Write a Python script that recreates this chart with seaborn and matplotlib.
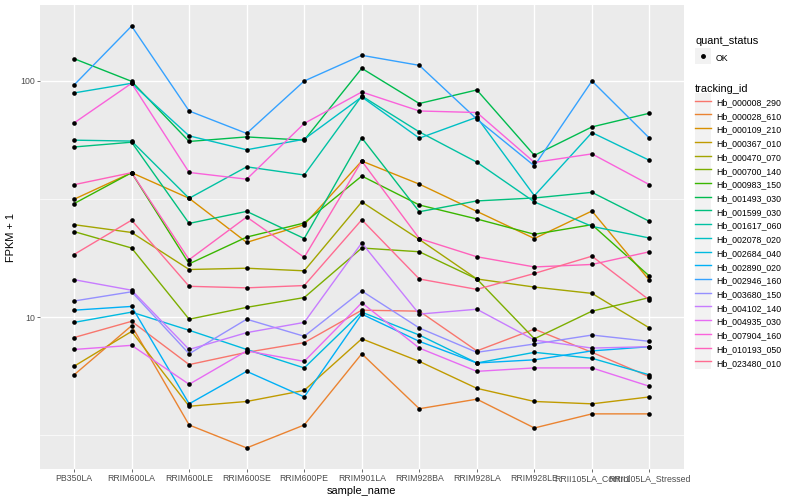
import numpy as np
import pandas as pd
import matplotlib
matplotlib.use('Agg')
import matplotlib.pyplot as plt
import seaborn as sns
from matplotlib.lines import Line2D
from matplotlib.patches import Rectangle
from matplotlib.legend_handler import HandlerTuple, HandlerPatch

samples = ['PB350LA', 'RRIM600LA', 'RRIM600LE', 'RRIM600SE', 'RRIM600PE', 'RRIM901LA',
           'RRIM928BA', 'RRIM928LA', 'RRIM928LE', 'RRII105LA_Control', 'RRII105LA_Stressed']

tracking_ids = ['Hb_000008_290', 'Hb_000028_610', 'Hb_000109_210', 'Hb_000367_010',
                'Hb_000470_070', 'Hb_000700_140', 'Hb_000983_150', 'Hb_001493_030',
                'Hb_001599_030', 'Hb_001617_060', 'Hb_002078_020', 'Hb_002684_040',
                'Hb_002890_020', 'Hb_002946_160', 'Hb_003680_150', 'Hb_004102_140',
                'Hb_004935_030', 'Hb_007904_160', 'Hb_010193_050', 'Hb_023480_010']

# ggplot default hue palette for 20 levels
colors = ['#F8766D', '#EA8331', '#D89000', '#C09B00', '#A3A500', '#7CAE00', '#39B600',
          '#00BB4E', '#00BF7D', '#00C1A3', '#00BFC4', '#00BAE0', '#00B0F6', '#35A2FF',
          '#9590FF', '#C77CFF', '#E76BF3', '#FA62DB', '#FF62BC', '#FF6C91']

# FPKM + 1, one value per sample
hb_000008_290 = [8.2, 9.6, 6.3, 7.1, 7.8, 10.7, 10.6, 7.2, 8.9, 7.1, 5.6]
hb_000028_610 = [5.7, 9.2, 3.5, 2.8, 3.5, 7.0, 4.1, 4.5, 3.4, 3.9, 3.9]
hb_000109_210 = [31.5, 40.8, 31.8, 20.7, 24.6, 45.7, 36.5, 28.0, 21.5, 28.1, 14.3]
hb_000367_010 = [6.2, 8.7, 4.2, 4.4, 4.9, 8.1, 6.5, 5.0, 4.4, 4.3, 4.6]
hb_000470_070 = [24.6, 22.8, 15.9, 16.1, 15.7, 30.7, 21.3, 14.5, 13.4, 12.6, 9.0]
hb_000700_140 = [23.0, 19.6, 9.8, 11.0, 12.1, 19.6, 18.9, 14.5, 8.1, 10.6, 12.1]
hb_000983_150 = [30.2, 40.8, 16.8, 21.8, 25.0, 39.5, 29.8, 26.0, 22.4, 24.6, 14.9]
hb_001493_030 = [123.8, 99.3, 55.3, 57.8, 56.0, 112.7, 80.0, 91.3, 48.3, 63.7, 72.8]
hb_001599_030 = [52.4, 54.9, 24.9, 28.0, 21.5, 57.3, 27.9, 31.0, 31.9, 33.7, 25.4]
hb_001617_060 = [56.0, 55.5, 31.8, 43.2, 39.9, 86.1, 60.7, 45.2, 30.7, 24.2, 21.6]
hb_002078_020 = [88.7, 97.4, 58.4, 51.0, 56.5, 85.3, 57.1, 70.0, 32.6, 60.3, 46.0]
hb_002684_040 = [9.5, 10.5, 8.8, 7.3, 6.1, 10.5, 8.4, 6.4, 7.1, 6.7, 5.7]
hb_002890_020 = [10.7, 11.1, 4.3, 5.9, 4.6, 10.3, 7.9, 6.4, 6.6, 7.2, 7.5]
hb_002946_160 = [95.8, 170.0, 74.4, 59.8, 99.6, 127.9, 116.0, 68.7, 43.6, 99.6, 57.1]
hb_003680_150 = [11.7, 12.8, 7.0, 9.8, 8.3, 12.9, 9.0, 7.1, 7.7, 8.4, 7.9]
hb_004102_140 = [14.4, 13.0, 7.3, 8.6, 9.5, 20.6, 10.3, 10.8, 8.0, 7.4, 7.5]
hb_004935_030 = [7.3, 7.6, 5.2, 7.2, 6.5, 11.5, 7.4, 5.9, 6.1, 6.1, 5.1]
hb_007904_160 = [66.2, 97.4, 40.9, 38.3, 65.9, 89.5, 74.4, 73.3, 45.1, 49.0, 36.3]
hb_010193_050 = [36.3, 40.8, 17.5, 26.5, 17.9, 45.7, 21.5, 18.0, 16.3, 16.7, 18.9]
hb_023480_010 = [18.4, 25.7, 13.5, 13.3, 13.6, 25.8, 14.5, 13.1, 15.3, 18.1, 11.8]

series = [hb_000008_290, hb_000028_610, hb_000109_210, hb_000367_010, hb_000470_070,
          hb_000700_140, hb_000983_150, hb_001493_030, hb_001599_030, hb_001617_060,
          hb_002078_020, hb_002684_040, hb_002890_020, hb_002946_160, hb_003680_150,
          hb_004102_140, hb_004935_030, hb_007904_160, hb_010193_050, hb_023480_010]

rows = []
for tid, vals in zip(tracking_ids, series):
    for s, v in zip(samples, vals):
        rows.append({'sample_name': s, 'tracking_id': tid, 'fpkm': v, 'quant_status': 'OK'})
df = pd.DataFrame(rows)

plt.rcParams['font.family'] = ['Liberation Sans', 'DejaVu Sans']

fig = plt.figure(figsize=(8, 5), dpi=100)
ax = fig.add_axes([0.0494, 0.062, 0.8056, 0.928])

sns.lineplot(data=df, x='sample_name', y='fpkm', hue='tracking_id', hue_order=tracking_ids,
             palette=colors, sort=False, linewidth=1.0, legend=False, ax=ax)
sns.scatterplot(data=df, x='sample_name', y='fpkm', color='black', s=11, linewidth=0,
                legend=False, ax=ax, zorder=5)

ax.set_yscale('log')
ax.set_yticks([10, 100])
ax.set_yticklabels(['10', '100'])
ax.set_yticks([10 ** 0.5, 10 ** 1.5, 10 ** 2.5], minor=True)
ax.yaxis.set_minor_formatter(plt.NullFormatter())
# ggplot-like 5% expansion in log space (set after the ticks so they don't widen it)
lo, hi = np.log10(df['fpkm'].min()), np.log10(df['fpkm'].max())
pad = 0.05 * (hi - lo)
ax.set_ylim(10 ** (lo - pad), 10 ** (hi + pad))
ax.set_xlim(-0.6, len(samples) - 0.4)

ax.set_facecolor('#EBEBEB')
for sp in ax.spines.values():
    sp.set_visible(False)
ax.set_axisbelow(True)
ax.grid(which='major', color='white', linewidth=1.0)
ax.grid(which='minor', axis='y', color='white', linewidth=0.5)
ax.tick_params(which='major', length=2, width=0.5, color='#333333', labelcolor='#4D4D4D',
               labelsize=6.3, pad=1.5)
ax.tick_params(which='minor', length=0)

ax.set_xlabel('sample_name', fontsize=7.9, labelpad=2)
ax.set_ylabel('FPKM + 1', fontsize=7.9, labelpad=3)


# legend keys: grey square filling the whole key box, like ggplot
def full_key(legend, orig_handle, xdescent, ydescent, width, height, fontsize):
    return Rectangle((-xdescent, -ydescent), width, height + ydescent)


key_bg = '#F2F2F2'
hmap = {Rectangle: HandlerPatch(patch_func=full_key), tuple: HandlerTuple(ndivide=1)}
leg_kw = dict(loc='upper left', frameon=False, alignment='left', fontsize=6.3,
              title_fontsize=7.9, handlelength=1.85, handleheight=1.85, handletextpad=0.5,
              borderpad=0, borderaxespad=0, labelspacing=0.12, handler_map=hmap)

ok_handle = (Rectangle((0, 0), 1, 1, facecolor=key_bg, edgecolor='none'),
             Line2D([], [], linestyle='none', marker='o', color='black', markersize=2.5))
leg1 = fig.legend(handles=[ok_handle], labels=['OK'], title='quant_status',
                  bbox_to_anchor=(0.869, 0.928), **leg_kw)
leg1._legend_box.sep = 4  # a little more room under the title

tid_handles = [(Rectangle((0, 0), 1, 1, facecolor=key_bg, edgecolor='none'),
                Line2D([], [], color=c, linewidth=1.0)) for c in colors]
leg2 = fig.legend(handles=tid_handles, labels=tracking_ids, title='tracking_id',
                  bbox_to_anchor=(0.869, 0.832), **leg_kw)
leg2._legend_box.sep = 1.5

fig.savefig('out.png', dpi=100)
